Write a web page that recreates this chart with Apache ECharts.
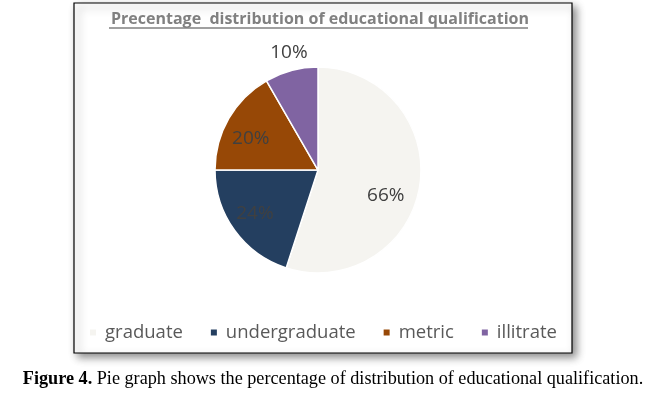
<!DOCTYPE html>
<html><head><meta charset="utf-8">
<script src="https://cdn.jsdelivr.net/npm/echarts@6/dist/echarts.min.js"></script>
<style>html,body{margin:0;padding:0;background:#fff}#c{width:645px;height:393px}</style>
</head><body><div id="c"></div>
<script>
const categories = ['graduate', 'undergraduate', 'metric', 'illitrate'];
const values = [66, 24, 20, 10];
const colors = ['#F5F4F0', '#243F60', '#974806', '#8064A2'];
const labelOffsets = [[14, 17], [-19, 12], [-20, -4], [-15, -65]];
const titleText = 'Precentage  distribution of educational qualification';

const chart = echarts.init(document.getElementById('c'), null, {renderer: 'canvas'});
chart.setOption({
  backgroundColor: '#fff',
  animation: false,
  title: [{
    text: titleText, left: 315, top: 6, textAlign: 'center',
    textStyle: {fontFamily: 'Open Sans', fontWeight: 'bold', fontSize: 16, color: '#808080'}
  }, {
    text: '{b|Figure 4.} Pie graph shows the percentage of distribution of educational qualification.',
    left: 328, top: 365, textAlign: 'center',
    textStyle: {fontFamily: 'Liberation Serif', fontWeight: 'normal', fontSize: 18.2, color: '#000',
      rich: {b: {fontFamily: 'Liberation Serif', fontWeight: 'bold', fontSize: 18.2, color: '#000'}}}
  }],
  graphic: [
    {type: 'rect', z: -10, shape: {x: 74, y: 3, width: 498, height: 350},
     style: {fill: '#fff', stroke: '#000', lineWidth: 1.2, shadowBlur: 8, shadowOffsetX: 4, shadowOffsetY: 4, shadowColor: 'rgba(0,0,0,0.45)'}},
    {type: 'line', shape: {x1: 109, y1: 28, x2: 528, y2: 28}, style: {stroke: '#808080', lineWidth: 1.3}}
  ],
  legend: {
    top: 318, left: 'center', itemWidth: 8, itemHeight: 8, itemGap: 26, icon: 'rect',
    textStyle: {fontFamily: 'Open Sans', fontSize: 18.5, color: '#595959', padding: [0, 0, 0, 3]},
    data: categories
  },
  series: [{
    type: 'pie', center: [318, 170], radius: 103, startAngle: 90, clockwise: true,
    avoidLabelOverlap: false,
    itemStyle: {borderColor: '#fff', borderWidth: 1.5},
    label: {show: true, position: 'inside', formatter: '{c}%', fontFamily: 'Open Sans', fontSize: 19, color: '#404040'},
    labelLine: {show: false},
    emphasis: {disabled: true},
    data: categories.map((n, i) => ({name: n, value: values[i], itemStyle: {color: colors[i]}, label: {offset: labelOffsets[i]}}))
  }]
});
</script></body></html>
